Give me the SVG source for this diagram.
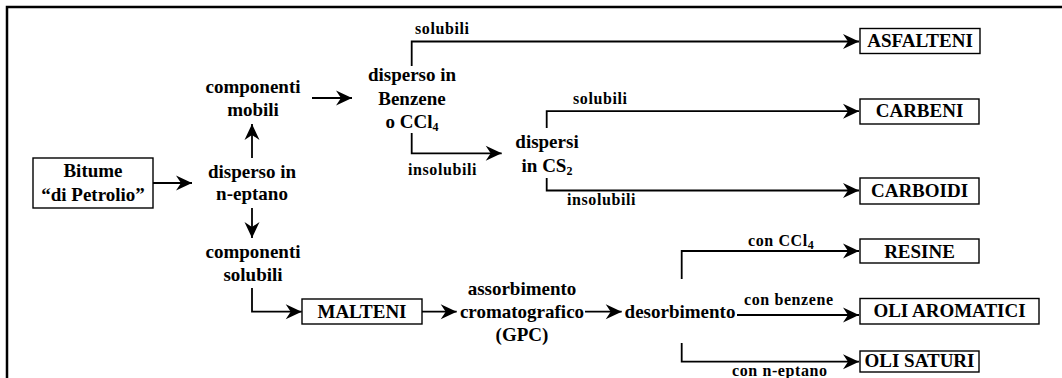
<svg xmlns="http://www.w3.org/2000/svg" width="1062" height="378" viewBox="0 0 1062 378">
<style>
.t{font-family:"Liberation Serif","Times New Roman",serif;font-weight:bold;font-size:19px;fill:#000;text-anchor:middle}
.l{font-family:"Liberation Serif","Times New Roman",serif;font-weight:bold;font-size:16px;letter-spacing:0.6px;fill:#000}
.b{fill:#fff;stroke:#000;stroke-width:1.4}
.c{fill:none;stroke:#000;stroke-width:1.8;marker-end:url(#ah)}
.sub{font-size:12px}
</style>
<defs>
<marker id="ah" markerUnits="userSpaceOnUse" markerWidth="20" markerHeight="20" viewBox="-18 -10 20 20" refX="0" refY="0" orient="auto">
<path d="M0,0 L-16,-7.5 L-11,0 L-16,7.5 Z" fill="#000"/>
</marker>
</defs>
<g id="frame" fill="none" stroke="#000" stroke-width="2.5">
<path d="M7,378 V7 H1062"/>
</g>
<g id="connectors">
<path class="c" d="M153,183 H192"/>
<path class="c" d="M252,158 V124"/>
<path class="c" d="M252,208 V238"/>
<path class="c" d="M312,98 H352"/>
<path class="c" d="M411.7,66 V41.5 H859"/>
<path class="c" d="M411.7,133 V153.3 H501.7"/>
<path class="c" d="M546.7,128 V111.2 H859"/>
<path class="c" d="M546.7,178 V190.5 H859"/>
<path class="c" d="M252,288 V311.7 H301.7"/>
<path class="c" d="M422,311.7 H456.7"/>
<path class="c" d="M585,311.7 H621.7"/>
<path class="c" d="M681.7,279 V251 H859"/>
<path class="c" d="M737,315 H859"/>
<path class="c" d="M681.7,343 V361.7 H859"/>
</g>
<g id="labels">
<text class="l" x="415" y="34">solubili</text>
<text class="l" x="408" y="175">insolubili</text>
<text class="l" x="573" y="104">solubili</text>
<text class="l" x="567" y="205">insolubili</text>
<text class="l" x="748" y="246">con CCl<tspan class="sub" dy="3">4</tspan></text>
<text class="l" x="744" y="305">con benzene</text>
<text class="l" x="732" y="376">con n-eptano</text>
</g>
<g id="bitume">
<rect class="b" x="33" y="158" width="120" height="50"/>
<text class="t" x="93" y="177">Bitume</text>
<text class="t" x="93" y="201">“di Petrolio”</text>
</g>
<g id="disperso-eptano">
<text class="t" x="252" y="178">disperso in</text>
<text class="t" x="252" y="200">n-eptano</text>
</g>
<g id="componenti-mobili">
<text class="t" x="253" y="93">componenti</text>
<text class="t" x="253" y="116">mobili</text>
</g>
<g id="componenti-solubili">
<text class="t" x="253" y="258">componenti</text>
<text class="t" x="253" y="281">solubili</text>
</g>
<g id="disperso-benzene">
<text class="t" x="412" y="81">disperso in</text>
<text class="t" x="412" y="105">Benzene</text>
<text class="t" x="412" y="128">o CCl<tspan class="sub" dy="3">4</tspan></text>
</g>
<g id="dispersi-cs2">
<text class="t" x="547" y="148">dispersi</text>
<text class="t" x="547" y="172">in CS<tspan class="sub" dy="3">2</tspan></text>
</g>
<g id="assorbimento">
<text class="t" x="522" y="295">assorbimento</text>
<text class="t" x="522" y="318">cromatografico</text>
<text class="t" x="522" y="341">(GPC)</text>
</g>
<g id="desorbimento">
<text class="t" x="680" y="318">desorbimento</text>
</g>
<g id="malteni">
<rect class="b" x="302" y="299" width="120" height="25"/>
<text class="t" x="362" y="318">MALTENI</text>
</g>
<g id="asfalteni">
<rect class="b" x="860" y="28.5" width="120" height="25"/>
<text class="t" x="920" y="47">ASFALTENI</text>
</g>
<g id="carbeni">
<rect class="b" x="860" y="99" width="119" height="25"/>
<text class="t" x="919.5" y="117">CARBENI</text>
</g>
<g id="carboidi">
<rect class="b" x="860" y="178" width="119" height="26"/>
<text class="t" x="919.5" y="197">CARBOIDI</text>
</g>
<g id="resine">
<rect class="b" x="860" y="239" width="119" height="24"/>
<text class="t" x="919.5" y="257.5">RESINE</text>
</g>
<g id="oli-aromatici">
<rect class="b" x="860" y="298.5" width="179" height="25.5"/>
<text class="t" x="949.5" y="317">OLI AROMATICI</text>
</g>
<g id="oli-saturi">
<rect class="b" x="860" y="351" width="119" height="21"/>
<text class="t" x="919.5" y="367">OLI SATURI</text>
</g>
</svg>
